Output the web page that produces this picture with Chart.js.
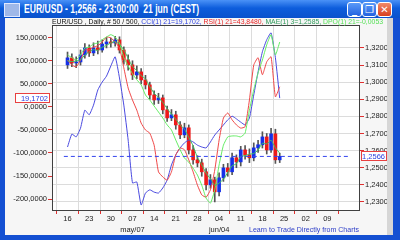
<!DOCTYPE html>
<html>
<head>
<meta charset="utf-8">
<script src="https://cdn.jsdelivr.net/npm/chart.js@4.4.1/dist/chart.umd.min.js"></script>
<style>
  html, body { margin: 0; padding: 0; }
  body { width: 400px; height: 240px; position: relative; overflow: hidden; background: #1450d2; font-family: "Liberation Sans", Arial, sans-serif; }
  #titlebar { position: absolute; left: 0; top: 0; width: 400px; height: 18px; background: linear-gradient(#4a92f7, #0d5ddc 45%, #0a52cc); }
  #title { position: absolute; left: 24px; top: 2px; color: #fff; font: bold 12px "Liberation Sans", Arial, sans-serif; white-space: nowrap; transform-origin: left top; }
  #icon { position: absolute; left: 4px; top: 3px; width: 14px; height: 12px; background: #9fb8e8; border: 1px solid #dfe8ff; }
  .btn { position: absolute; top: 2px; width: 13px; height: 13px; border: 1px solid #fff; border-radius: 3px; background: linear-gradient(#5a9af8, #2262e0); }
  #bmin { left: 347px; } #bmax { left: 362px; } #bclose { left: 377px; background: linear-gradient(#f08a6a, #d8401e); }
  .btn span { position: absolute; color: #fff; font: bold 10px "DejaVu Sans", sans-serif; line-height: 13px; width: 13px; text-align: center; left: 0; top: 0; }
  #panel { position: absolute; left: 5px; top: 18px; width: 382px; height: 217px; background: #f6f6f6; }
  #strip { position: absolute; left: 387px; top: 18px; width: 6px; height: 217px; background: #d6d6d6; }
  #legend { position: absolute; left: 52px; top: 17px; font: 8px "Liberation Sans", Arial, sans-serif; white-space: nowrap; transform-origin: left top; }
  #promo { position: absolute; left: 249px; top: 225px; font: 8px "Liberation Sans", Arial, sans-serif; color: #3040c8; white-space: nowrap; transform-origin: left top; }
  canvas { position: absolute; left: 5px; top: 18px; }
</style>
</head>
<body>
<div id="titlebar"><div id="icon"></div><div id="title">EUR/USD - 1,2566 - 23:00:00&nbsp; 21 jun (CEST)</div>
  <div class="btn" id="bmin"><span>_</span></div>
  <div class="btn" id="bmax"><span>&#x2750;</span></div>
  <div class="btn" id="bclose"><span>&#x2715;</span></div>
</div>
<div id="panel"></div>
<div id="strip"></div>
<canvas id="c" width="382" height="217"></canvas>
<div id="legend"><span style="color:#111">EUR/USD , Daily, # 50 / 500, </span><span style="color:#2a3fe0">CCI(1) 21=19,1702, </span><span style="color:#e82424">RSI(1) 21=43,8480, </span><span style="color:#2f9a5a">MAE(1) 3=1,2585, </span><span style="color:#55e055">DPO(1) 21=-0,0053</span></div>
<div id="promo">Learn to Trade Directly from Charts</div>
<script>
(() => {
  "use strict";

  // x tick labels: one per week (Mondays), month label under the first Monday of a month
  const weekLabels = ["16", "23", "30", "07", "14", "21", "28", "04", "11", "18", "25", "02", "09"];
  const monthLabels = ["", "", "", "may/07", "", "", "", "jun/04", "", "", "", "", ""];
  const BARS_PER_WEEK = 5;

  // daily EUR/USD candles
  const open = [1.3101, 1.3142, 1.3112, 1.3118, 1.3159, 1.3200, 1.3171, 1.3200, 1.3188, 1.3223,
                1.3235, 1.3229, 1.3247, 1.3188, 1.3130, 1.3101, 1.3042, 1.3060, 1.3013, 1.2984,
                1.2925, 1.2896, 1.2908, 1.2838, 1.2791, 1.2809, 1.2750, 1.2692, 1.2733, 1.2604,
                1.2546, 1.2528, 1.2476, 1.2400, 1.2429, 1.2359, 1.2441, 1.2499, 1.2476, 1.2558,
                1.2534, 1.2604, 1.2575, 1.2558, 1.2616, 1.2634, 1.2680, 1.2604, 1.2698, 1.2546];
  const high = [1.3176, 1.3165, 1.3148, 1.3188, 1.3225, 1.3218, 1.3230, 1.3240, 1.3247, 1.3262,
                1.3258, 1.3268, 1.3265, 1.3206, 1.3160, 1.3125, 1.3095, 1.3080, 1.3040, 1.3000,
                1.2950, 1.2935, 1.2925, 1.2860, 1.2840, 1.2830, 1.2770, 1.2760, 1.2750, 1.2630,
                1.2570, 1.2550, 1.2495, 1.2460, 1.2445, 1.2470, 1.2520, 1.2525, 1.2585, 1.2575,
                1.2625, 1.2630, 1.2610, 1.2645, 1.2660, 1.2710, 1.2700, 1.2730, 1.2725, 1.2585];
  const low = [1.3080, 1.3090, 1.3085, 1.3100, 1.3140, 1.3150, 1.3155, 1.3165, 1.3175, 1.3200,
               1.3205, 1.3210, 1.3170, 1.3105, 1.3070, 1.3015, 1.3020, 1.2990, 1.2960, 1.2900,
               1.2870, 1.2875, 1.2815, 1.2770, 1.2775, 1.2725, 1.2670, 1.2675, 1.2580, 1.2520,
               1.2505, 1.2450, 1.2370, 1.2380, 1.2300, 1.2335, 1.2420, 1.2450, 1.2460, 1.2500,
               1.2510, 1.2550, 1.2530, 1.2540, 1.2590, 1.2615, 1.2580, 1.2590, 1.2525, 1.2530];
  const close = [1.3142, 1.3112, 1.3118, 1.3159, 1.3200, 1.3171, 1.3200, 1.3188, 1.3223, 1.3235,
                 1.3229, 1.3247, 1.3188, 1.3130, 1.3101, 1.3042, 1.3060, 1.3013, 1.2984, 1.2925,
                 1.2896, 1.2908, 1.2838, 1.2791, 1.2809, 1.2750, 1.2692, 1.2733, 1.2604, 1.2546,
                 1.2528, 1.2476, 1.2400, 1.2429, 1.2359, 1.2441, 1.2499, 1.2476, 1.2558, 1.2534,
                 1.2604, 1.2575, 1.2558, 1.2616, 1.2634, 1.2680, 1.2604, 1.2698, 1.2546, 1.2566];

  // MAE(1) 3 line, price scale
  const mae = [1.3125, 1.3120, 1.3124, 1.3130, 1.3159, 1.3177, 1.3190, 1.3186, 1.3204, 1.3215,
               1.3229, 1.3237, 1.3221, 1.3188, 1.3140, 1.3091, 1.3068, 1.3038, 1.3019, 1.2974,
               1.2935, 1.2910, 1.2881, 1.2846, 1.2813, 1.2783, 1.2750, 1.2725, 1.2676, 1.2628,
               1.2559, 1.2517, 1.2468, 1.2435, 1.2396, 1.2410, 1.2433, 1.2472, 1.2511, 1.2523,
               1.2565, 1.2571, 1.2579, 1.2583, 1.2603, 1.2643, 1.2639, 1.2661, 1.2616, 1.2585];

  // oscillators, read against the left scale
  const cci = [-87, -59, -65, -46, -7, -17, 4, 37, 54, 67,
               89, 109, 63, 4, -72, -165, -163, -213, -187, -180,
               -185, -187, -176, -159, -126, -104, -89, -78, -72, -76,
               -83, -87, -89, -76, -61, -50, -39, -28, -20, -26,
               -33, -39, -24, 26, 76, 120, 146, 161, 107, 19.1702];
  const rsi = [102, 91, 87, 102, 124, 124, 130, 133, 141, 152,
               150, 141, 128, 85, 41, 15, -7, -35, -50, -57,
               -83, -141, -152, -159, -141, -104, -89, -93, -115, -141,
               -170, -191, -196, -180, -137, -72, -24, -13, -28, -39,
               -46, -43, 15, 91, 107, 70, 98, 109, 22, 43.848];
  const dpo = [113, 107, 102, 113, 128, 130, 137, 139, 146, 152,
               157, 152, 139, 107, 89, 72, 59, 48, 26, 15,
               2, -11, -24, -39, -50, -72, -93, -111, -120, -133,
               -148, -170, -198, -209, -180, -126, -83, -65, -63, -63,
               -65, -57, -7, 37, 74, 102, 135, 157, 113, 141];

  const LAST_CCI = 19.1702;
  const LAST_PRICE = 1.2566;

  const X_MIN = -0.85, X_MAX = 64.8;
  const LEFT_MIN = -226, LEFT_MAX = 178;
  const RIGHT_MIN = 1.2247, RIGHT_MAX = 1.3334;

  const UP = "#1530e8", DOWN = "#ee1a1a";
  const TICK_FONT = { family: "Liberation Sans, Arial, sans-serif", size: 7.5 };

  const idx = close.map((_, i) => i);
  const pts = arr => arr.map((v, i) => ({ x: idx[i], y: v }));
  const comma = (v, d) => v.toFixed(d).replace(".", ",");

  const plotBg = {
    id: "plotBg",
    beforeDraw(chart) {
      const { ctx, chartArea: a } = chart;
      ctx.save();
      ctx.fillStyle = "#ffffff";
      ctx.fillRect(a.left, a.top, a.right - a.left, a.bottom - a.top);
      ctx.restore();
    },
    afterDraw(chart) {
      const { ctx, chartArea: a, scales } = chart;
      ctx.save();
      ctx.strokeStyle = "#404040";
      ctx.lineWidth = 1;
      ctx.strokeRect(a.left + 0.5, a.top + 0.5, a.right - a.left - 1, a.bottom - a.top - 1);

      // last value boxes on both axes
      const box = (x, w, y, text) => {
        ctx.fillStyle = "#ffffff";
        ctx.fillRect(x, y - 5, w, 10);
        ctx.strokeStyle = "#e84040";
        ctx.strokeRect(x + 0.5, y - 4.5, w - 1, 9);
        ctx.fillStyle = "#2a3fe0";
        ctx.font = "7.5px Liberation Sans, Arial, sans-serif";
        ctx.textAlign = "right";
        ctx.textBaseline = "middle";
        ctx.fillText(text, x + w - 2, y + 0.5);
      };
      box(10, 35, Math.round(scales.yL.getPixelForValue(LAST_CCI)), comma(LAST_CCI, 4));
      box(356, 26, Math.round(scales.yR.getPixelForValue(LAST_PRICE)), comma(LAST_PRICE, 4));
      ctx.restore();
    }
  };

  const lineDs = (label, data, color, axis) => ({
    type: "line", label, data: pts(data), yAxisID: axis,
    borderColor: color, borderWidth: 1, pointRadius: 0, tension: 0.15, order: 1
  });

  new Chart(document.getElementById("c"), {
    data: {
      datasets: [
        {
          type: "bar", label: "wick", yAxisID: "yR", grouped: false, order: 3,
          data: idx.map(i => ({ x: i, y: [low[i], high[i]] })),
          backgroundColor: "#555555", barThickness: 1
        },
        {
          type: "bar", label: "body", yAxisID: "yR", grouped: false, order: 2,
          data: idx.map(i => ({ x: i, y: [open[i], close[i]] })),
          backgroundColor: idx.map(i => close[i] >= open[i] ? UP : DOWN), barThickness: 3,
          minBarLength: 1
        },
        lineDs("MAE", mae, "#3cc060", "yR"),
        lineDs("DPO", dpo, "#66ee66", "yL"),
        lineDs("RSI", rsi, "#f04848", "yL"),
        lineDs("CCI", cci, "#4a4ae0", "yL"),
        {
          type: "line", label: "last", yAxisID: "yR", order: 0,
          data: [{ x: X_MIN, y: LAST_PRICE }, { x: X_MAX, y: LAST_PRICE }],
          borderColor: "#3344ee", borderWidth: 1, borderDash: [4, 3], pointRadius: 0
        }
      ]
    },
    options: {
      responsive: false,
      animation: false,
      layout: { padding: { top: 7, left: 0, right: 0, bottom: 0 } },
      plugins: { legend: { display: false }, tooltip: { enabled: false } },
      scales: {
        x: {
          type: "linear", min: X_MIN, max: X_MAX,
          afterBuildTicks(scale) {
            scale.ticks = weekLabels.map((_, k) => ({ value: k * BARS_PER_WEEK }));
          },
          afterFit(scale) { scale.height = 24; },
          grid: { color: "#dcdcdc", tickColor: "#e03030", tickLength: 3 },
          border: { display: false },
          ticks: {
            color: "#222", font: { ...TICK_FONT, lineHeight: 1.4 }, padding: 0, maxRotation: 0, autoSkip: false,
            callback(v) {
              const k = Math.round(v / BARS_PER_WEEK);
              return monthLabels[k] ? [weekLabels[k], monthLabels[k]] : weekLabels[k];
            }
          }
        },
        yL: {
          type: "linear", position: "left", min: LEFT_MIN, max: LEFT_MAX,
          afterFit(scale) { scale.width = 47; },
          grid: { drawOnChartArea: false, tickColor: "#e03030", tickLength: 4 },
          border: { display: false },
          ticks: { stepSize: 50, includeBounds: false, color: "#222", font: TICK_FONT, padding: 1,
                   callback: v => comma(v, 4) }
        },
        yR: {
          type: "linear", position: "right", min: RIGHT_MIN, max: RIGHT_MAX,
          afterBuildTicks(scale) { scale.ticks = scale.ticks.filter(t => t.value <= 1.3201); },
          afterFit(scale) { scale.width = 27; },
          grid: { color: "#dcdcdc", tickColor: "#e03030", tickLength: 4 },
          border: { display: false },
          ticks: { stepSize: 0.01, includeBounds: false, color: "#222", font: TICK_FONT, padding: 1,
                   callback: v => comma(v, 4) }
        }
      }
    },
    plugins: [plotBg]
  });

  function fitWidth(id, w) {
    const el = document.getElementById(id);
    el.style.transform = `scaleX(${w / el.getBoundingClientRect().width})`;
  }
  fitWidth("title", 175);
  fitWidth("legend", 331);
  fitWidth("promo", 110);
})();
</script>
</body>
</html>
